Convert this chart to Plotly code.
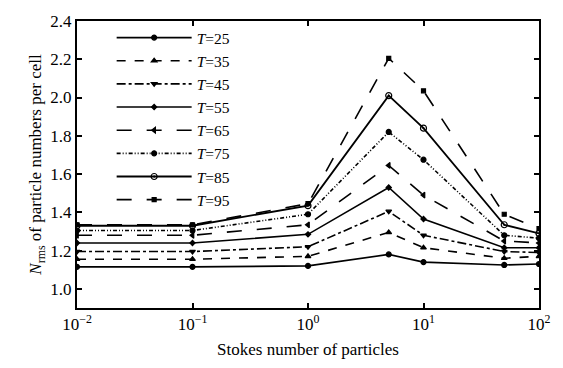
import plotly.graph_objects as go

stokes = [0.01, 0.1, 1, 5, 10, 50, 100]
labels = ["25", "35", "45", "55", "65", "75", "85", "95"]
series = {
    "25": [1.115, 1.115, 1.12, 1.18, 1.14, 1.125, 1.13],
    "35": [1.155, 1.155, 1.17, 1.295, 1.215, 1.16, 1.17],
    "45": [1.195, 1.195, 1.22, 1.405, 1.28, 1.195, 1.19],
    "55": [1.24, 1.24, 1.285, 1.53, 1.365, 1.215, 1.215],
    "65": [1.28, 1.28, 1.335, 1.645, 1.49, 1.25, 1.24],
    "75": [1.305, 1.305, 1.39, 1.82, 1.675, 1.28, 1.265],
    "85": [1.33, 1.33, 1.435, 2.01, 1.84, 1.335, 1.29],
    "95": [1.335, 1.335, 1.445, 2.205, 2.035, 1.39, 1.315],
}
dashes = {"25": "solid", "35": "dash", "45": "dashdot", "55": "solid",
          "65": "longdash", "75": "4px 2px 1px 2px 1px 2px", "85": "solid", "95": "longdash"}
symbols = {"25": "circle", "35": "triangle-up", "45": "triangle-down", "55": "diamond",
           "65": "triangle-left", "75": "circle-dot", "85": "circle-open-dot", "95": "square"}
sizes = {"25": 5, "35": 5, "45": 5, "55": 4, "65": 5, "75": 5, "85": 6, "95": 4}
widths = {"25": 1.6, "35": 1.6, "45": 1.6, "55": 1.6, "65": 1.6, "75": 1.6, "85": 1.8, "95": 1.6}

fig = go.Figure()
for t in labels:
    fig.add_trace(go.Scatter(
        x=stokes, y=series[t], mode="lines+markers",
        name=f"<i>T</i>={t}",
        line=dict(color="black", width=widths[t], dash=dashes[t]),
        marker=dict(symbol=symbols[t], size=sizes[t], color="black",
                    line=dict(color="black", width=1.2)),
    ))

font = "'Liberation Serif', 'Times New Roman', serif"
fig.update_layout(
    width=563, height=368,
    margin=dict(l=77, r=17, t=15, b=60),
    paper_bgcolor="white", plot_bgcolor="white",
    font=dict(family=font, size=17, color="black"),
    showlegend=True,
    legend=dict(x=0.075, y=1.0, xanchor="left", yanchor="top",
                bgcolor="rgba(0,0,0,0)", font=dict(family=font, size=15.5),
                tracegroupgap=0, itemwidth=75),
    xaxis=dict(type="log", range=[-2, 2],
               tickvals=[0.01, 0.1, 1, 10, 100],
               ticktext=["10<sup>−2</sup>", "10<sup>−1</sup>", "10<sup>0</sup>",
                         "10<sup>1</sup>", "10<sup>2</sup>"],
               ticks="inside", ticklen=5, tickwidth=1.5, tickcolor="black",
               showline=True, linecolor="black", linewidth=2, mirror="ticks",
               showgrid=False, zeroline=False,
               title=dict(text="Stokes number of particles", font=dict(size=17), standoff=10),
               tickfont=dict(size=17)),
    yaxis=dict(range=[0.9, 2.4], dtick=0.2, tick0=1.0, tickformat=".1f",
               ticks="inside", ticklen=5, tickwidth=1.5, tickcolor="black",
               showline=True, linecolor="black", linewidth=2, mirror="ticks",
               showgrid=False, zeroline=False,
               title=dict(text="<i>N</i><sub>rms</sub> of particle numbers per cell",
                          font=dict(size=17), standoff=4),
               tickfont=dict(size=17)),
)
fig.write_html("out.html")
